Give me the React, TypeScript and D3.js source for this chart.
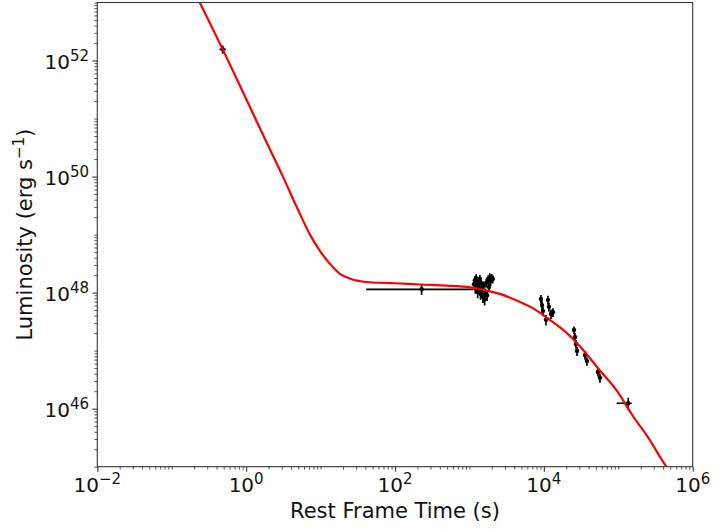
import React, { useEffect, useRef } from "react";
import { select, scaleLog, line, curveMonotoneX, axisBottom, axisLeft } from "d3";

// fitted model (t in s, L in erg/s)
const curveT = [0.2, 0.24, 0.49, 0.91, 1.7, 3.2, 4.8, 7.2, 9.8, 14.8, 18.2, 25, 46, 100, 220, 500, 1020, 1510,
  2570, 4790, 7080, 12000, 20400, 30900, 56200, 95500, 129000, 158000, 240000, 427000, 501000];
const curveL = [1.58e53, 9.8e52, 1.51e52, 2.82e51, 5.1e50, 9.3e49, 2.95e49, 1.0e49, 5.25e48, 2.7e48, 2.1e48,
  1.74e48, 1.51e48, 1.45e48, 1.38e48, 1.32e48, 1.23e48, 1.12e48, 9.5e47, 6.9e47, 5.4e47, 3.4e47, 2.0e47,
  1.17e47, 4.6e46, 2.04e46, 1.12e46, 7.4e45, 3.5e45, 1.07e45, 7.9e44];

// observed points
const obsT = [0.484, 228,
  1150, 1180, 1200, 1230, 1260, 1290, 1310, 1350, 1380, 1410, 1440, 1480, 1520, 1560, 1600, 1640, 1690, 1730,
  1780, 1830, 1880, 1930, 1990, 2060,
  9140, 9440, 9730, 10680, 11350, 11720, 12470, 13270,
  25400, 26200, 27000, 27900,
  35700, 37900,
  53300, 56700,
  136000];
const obsL = [1.56e52, 1.14e48,
  1.40e48, 1.62e48, 1.18e48, 1.78e48, 1.32e48, 1.02e48, 1.55e48, 1.22e48, 1.72e48, 0.95e48, 1.45e48, 1.10e48,
  0.84e48, 1.30e48, 0.76e48, 0.98e48, 1.48e48, 0.90e48, 1.70e48, 1.25e48, 1.85e48, 1.58e48, 1.80e48, 1.72e48,
  7.8e47, 6.1e47, 4.8e47, 3.4e47, 7.5e47, 5.7e47, 4.3e47, 4.6e47,
  2.27e47, 1.72e47, 1.30e47, 0.99e47,
  8.4e46, 6.6e46,
  4.3e46, 3.4e46,
  1.24e46];
const obsLErr = [2.5e51, 0.22e48,
  0.25e48, 0.30e48, 0.22e48, 0.30e48, 0.25e48, 0.22e48, 0.28e48, 0.25e48, 0.30e48, 0.20e48, 0.26e48, 0.22e48,
  0.18e48, 0.25e48, 0.16e48, 0.20e48, 0.26e48, 0.18e48, 0.28e48, 0.24e48, 0.30e48, 0.28e48, 0.30e48, 0.28e48,
  1.3e47, 1.1e47, 0.9e47, 0.7e47, 1.3e47, 1.0e47, 0.8e47, 0.8e47,
  0.35e47, 0.30e47, 0.22e47, 0.18e47,
  1.4e46, 1.1e46,
  0.7e46, 0.6e46,
  0.3e46];
const obsTErrLo = [0.045, 187,
  40, 40, 40, 45, 45, 45, 45, 50, 50, 50, 50, 50, 55, 55, 55, 55, 60, 60, 60, 60, 65, 65, 65, 70,
  250, 250, 250, 300, 300, 300, 300, 350,
  600, 600, 650, 650,
  800, 800,
  1200, 1200,
  40900];
const obsTErrHi = [0.05, 889,
  40, 40, 40, 45, 45, 45, 45, 50, 50, 50, 50, 50, 55, 55, 55, 55, 60, 60, 60, 60, 65, 65, 65, 70,
  250, 250, 250, 300, 300, 300, 300, 350,
  600, 600, 650, 650,
  800, 800,
  1200, 1200,
  15400];

const xMajorExp = [-2, 0, 2, 4, 6];
const yMajorExp = [46, 48, 50, 52];

function App() {
  const svgRef = useRef(null);

  useEffect(() => {
    const WIDTH = 713;
    const HEIGHT = 529;
    const M = { left: 97.3, right: 692.7, top: 2.5, bottom: 466.7 };
    const FONT = "DejaVu Sans, sans-serif";

    const svg = select(svgRef.current).attr("width", WIDTH).attr("height", HEIGHT);
    svg.selectAll("*").remove();

    const x = scaleLog().domain([1e-2, 1e6]).range([M.left, M.right]);
    const y = scaleLog().domain([1e45, 1e53]).range([M.bottom, M.top]);

    svg.append("defs").append("clipPath").attr("id", "plotclip")
      .append("rect").attr("x", M.left).attr("y", M.top)
      .attr("width", M.right - M.left).attr("height", M.bottom - M.top);

    const xMajor = xMajorExp.map((e) => Math.pow(10, e));
    const yMajor = yMajorExp.map((e) => Math.pow(10, e));
    const isMajor = (v, list) => list.some((m) => Math.abs(Math.log10(v) - Math.log10(m)) < 1e-6);
    const xMinor = x.ticks().filter((v) => !isMajor(v, xMajor));
    const yMinor = y.ticks().filter((v) => !isMajor(v, yMajor));

    // minor ticks
    svg.append("g").attr("transform", `translate(0,${M.bottom})`)
      .call(axisBottom(x).tickValues(xMinor).tickSize(3).tickFormat(() => ""))
      .call((g) => g.select(".domain").remove())
      .selectAll("line").attr("stroke", "#333").attr("stroke-width", 0.8);
    svg.append("g").attr("transform", `translate(${M.left},0)`)
      .call(axisLeft(y).tickValues(yMinor).tickSize(3).tickFormat(() => ""))
      .call((g) => g.select(".domain").remove())
      .selectAll("line").attr("stroke", "#333").attr("stroke-width", 0.8);

    // major ticks
    const xAx = svg.append("g").attr("transform", `translate(0,${M.bottom})`)
      .call(axisBottom(x).tickValues(xMajor).tickSize(5).tickFormat(() => ""));
    xAx.select(".domain").remove();
    xAx.selectAll("line").attr("stroke", "#333").attr("stroke-width", 1.1);
    const yAx = svg.append("g").attr("transform", `translate(${M.left},0)`)
      .call(axisLeft(y).tickValues(yMajor).tickSize(5).tickFormat(() => ""));
    yAx.select(".domain").remove();
    yAx.selectAll("line").attr("stroke", "#333").attr("stroke-width", 1.1);

    // tick labels with superscript exponents
    xMajorExp.forEach((e) => {
      const t = svg.append("text").attr("x", x(Math.pow(10, e))).attr("y", 492)
        .attr("text-anchor", "middle").attr("font-family", FONT).attr("font-size", 20).attr("fill", "#111");
      t.append("tspan").text("10");
      t.append("tspan").attr("dy", -8).attr("font-size", 15).text(e < 0 ? `\u2212${-e}` : `${e}`);
    });
    yMajorExp.forEach((e) => {
      const t = svg.append("text").attr("x", 89).attr("y", y(Math.pow(10, e)) + 8)
        .attr("text-anchor", "end").attr("font-family", FONT).attr("font-size", 20).attr("fill", "#111");
      t.append("tspan").text("10");
      t.append("tspan").attr("dy", -8).attr("font-size", 15).text(`${e}`);
    });

    // axis labels
    svg.append("text").attr("x", (M.left + M.right) / 2).attr("y", 518)
      .attr("text-anchor", "middle").attr("font-family", FONT).attr("font-size", 21).attr("fill", "#111")
      .text("Rest Frame Time (s)");
    const yl = svg.append("text")
      .attr("transform", `translate(32,${(M.top + M.bottom) / 2}) rotate(-90)`)
      .attr("text-anchor", "middle").attr("font-family", FONT).attr("font-size", 21).attr("fill", "#111");
    yl.append("tspan").text("Luminosity (erg s");
    yl.append("tspan").attr("dy", -8).attr("font-size", 15).text("\u22121");
    yl.append("tspan").attr("dy", 8).text(")");

    // error bars
    const plot = svg.append("g").attr("clip-path", "url(#plotclip)");
    const pts = obsT.map((t, i) => ({
      t, L: obsL[i], dL: obsLErr[i], tLo: t - obsTErrLo[i], tHi: t + obsTErrHi[i],
    }));
    plot.selectAll(".ybar").data(pts).join("line").classed("ybar", true)
      .attr("x1", (d) => x(d.t)).attr("x2", (d) => x(d.t))
      .attr("y1", (d) => y(d.L + d.dL)).attr("y2", (d) => y(Math.max(d.L - d.dL, 1e40)))
      .attr("stroke", "black").attr("stroke-width", 1.7);
    plot.selectAll(".xbar").data(pts).join("line").classed("xbar", true)
      .attr("x1", (d) => x(d.tLo)).attr("x2", (d) => x(d.tHi))
      .attr("y1", (d) => y(d.L)).attr("y2", (d) => y(d.L))
      .attr("stroke", "black").attr("stroke-width", 1.7);
    plot.selectAll(".pt").data(pts).join("circle").classed("pt", true)
      .attr("cx", (d) => x(d.t)).attr("cy", (d) => y(d.L)).attr("r", 2.2).attr("fill", "black");

    // model curve
    const curveData = curveT.map((t, i) => [t, curveL[i]]);
    plot.append("path").datum(curveData)
      .attr("d", line().x((d) => x(d[0])).y((d) => y(d[1])).curve(curveMonotoneX))
      .attr("fill", "none").attr("stroke", "#ff0000").attr("stroke-width", 2.2);

    // frame
    svg.append("rect").attr("x", M.left).attr("y", M.top)
      .attr("width", M.right - M.left).attr("height", M.bottom - M.top)
      .attr("fill", "none").attr("stroke", "#333").attr("stroke-width", 1.1);
  }, []);

  return (
    <svg ref={svgRef} style={{ position: "absolute", left: 0, top: 0, background: "white" }}></svg>
  );
}

export default App;
